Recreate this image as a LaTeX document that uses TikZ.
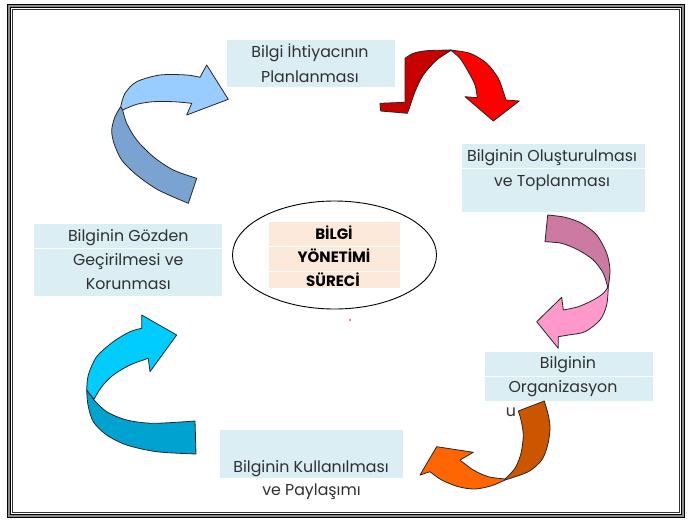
\documentclass[tikz,border=0pt]{standalone}
\usepackage{fontspec}
\setmainfont{Poppins}
\usetikzlibrary{shapes.geometric}
\definecolor{boxblue}{HTML}{DAEEF3}
\definecolor{boxpeach}{HTML}{FDE9D9}
\definecolor{txt}{HTML}{303030}
\definecolor{blueL}{HTML}{99CCFF}
\definecolor{blueD}{HTML}{7BA3D2}
\definecolor{redD}{HTML}{C80000}
\definecolor{redL}{HTML}{FF0000}
\definecolor{pinkD}{HTML}{CC7AA2}
\definecolor{pinkL}{HTML}{FF99CC}
\definecolor{orD}{HTML}{CC5500}
\definecolor{orL}{HTML}{FF6600}
\definecolor{cyL}{HTML}{00CCFF}
\definecolor{cyD}{HTML}{00A3CF}
\tikzset{
  bluebox/.style={draw=none, fill=boxblue, inner sep=0pt},
  peachbox/.style={draw=none, fill=boxpeach, inner sep=0pt},
  lbl/.style={anchor=base, inner sep=0pt, text=txt, font=\fontsize{15.8}{18}\selectfont},
  blbl/.style={anchor=base, inner sep=0pt, text=black, font=\fontsize{15}{18}\selectfont\bfseries},
  arrowline/.style={draw=black!85, line width=0.8pt, line join=round},
  sep/.style={draw=white, line width=1pt}
}
\begin{document}
\begin{tikzpicture}[x=1pt,y=-1pt]
\useasboundingbox (0,0) rectangle (691,520);
\fill[white] (0,0) rectangle (691,520);
% frame
\draw[line width=3.2pt, black!45] (8.7,6) rectangle (682.6,515.8);
\draw[line width=1pt, black] (7.3,4.7) rectangle (684,517.2);
\draw[line width=1.2pt, black] (10.1,7.4) rectangle (681.2,514.4);
\draw[line width=0.7pt, black!80] (12.4,9.6) rectangle (678.9,512.1);

% boxes
\node[bluebox, minimum width=168, minimum height=47] (b1) at (311,63.5) {};
\node[bluebox, minimum width=183, minimum height=68] (b2) at (553.5,178) {};
\node[bluebox, minimum width=168, minimum height=49] (b3) at (569,376.5) {};
\node[bluebox, minimum width=183, minimum height=48] (b4) at (311.5,454) {};
\node[bluebox, minimum width=188, minimum height=72] (b5) at (128,260) {};
\draw[sep] (b2.west |- 0,168) -- (b2.east |- 0,168);
\draw[sep] (b3.west |- 0,376) -- (b3.east |- 0,376);
\draw[sep] (b5.west |- 0,248) -- (b5.east |- 0,248);

% centre
\node[draw=black, line width=0.9pt, ellipse, minimum width=204, minimum height=108, inner sep=0pt] (ell) at (334.5,255) {};
\node[peachbox, minimum width=131, minimum height=66] (cb) at (334.5,255) {};
\draw[sep] (cb.west |- 0,246.5) -- (cb.east |- 0,246.5);
\draw[sep] (cb.west |- 0,271) -- (cb.east |- 0,271);
\node[blbl] (c1) at (334,239) {BİLGİ};
\node[blbl] (c2) at (334,262.3) {YÖNETİMİ};
\node[blbl] (c3) at (333,286.7) {SÜRECİ};

% texts
\node[lbl] (t1a) at (310,57) {Bilgi İhtiyacının};
\node[lbl] (t1b) at (310,82) {Planlanması};
\node[lbl] (t2a) at (552,161) {Bilginin Oluşturulması};
\node[lbl] (t2b) at (552,186) {ve Toplanması};
\node[lbl] (t3a) at (568,368) {Bilginin};
\node[lbl] (t3b) at (563,392.7) {Organizasyon};
\node[lbl] (t3c) at (511,416) {u};
\node[lbl] (t4a) at (311,472.7) {Bilginin Kullanılması};
\node[lbl] (t4b) at (311.5,495) {ve Paylaşımı};
\node[lbl] (t5a) at (128.3,241) {Bilginin Gözden};
\node[lbl] (t5b) at (128.3,265.3) {Geçirilmesi ve};
\node[lbl] (t5c) at (128.3,289.3) {Korunması};

% red dot
\fill[red] (350,320) circle (0.8);

% arrow 1 (blue, top left)
\filldraw[arrowline, fill=blueD] (120.7,106.7) -- plot[smooth] coordinates {(120.7,106.7) (115,116.7) (111.7,130) (114,143.3) (121.7,160) (136.7,175) (158.3,190) (188.3,203.3)} -- (196.7,178.3) -- plot[smooth] coordinates {(196.7,178.3) (173.3,170) (153.3,156.7) (136.7,140) (126.7,123.3) (122.7,110)} -- cycle;
\filldraw[arrowline, fill=blueL] (120.7,106.7) -- plot[smooth] coordinates {(120.7,106.7) (125,93.3) (136.7,81.7) (160,75) (186.7,75) (200,77.3)} -- (206.7,65) -- (228.3,99.3) -- (186.7,115) -- (191.7,103.3) -- plot[smooth] coordinates {(191.7,103.3) (173.3,101.7) (153.3,101.7) (136.7,104.3) (122.7,110)} -- cycle;

% arrow 2 (red)
\filldraw[arrowline, fill=redD] (405,58.3) -- plot[smooth] coordinates {(405,58.3) (413.3,53.3) (426.7,50.7) (451.7,50)} -- plot[smooth] coordinates {(451.7,50) (436.7,60) (423.3,75) (415,91.7) (409.3,108.3) (407.3,113.3)} -- (380.7,111) -- (380,103.3) -- (405,102.3) -- cycle;
\filldraw[arrowline, fill=redL] (450,50) -- plot[smooth] coordinates {(450,50) (470,53.3) (486.7,63.3) (498.3,78.3) (503.3,91.7) (506,100)} -- (519.3,101) -- (493.3,121) -- (465,96.7) -- (477.3,97.7) -- plot[smooth] coordinates {(477.3,97.7) (475,85) (468.3,71.7) (460,58.3) (451.7,51)} -- cycle;

% arrow 3 (pink)
\filldraw[arrowline, fill=pinkD] (547.7,215) -- plot[smooth] coordinates {(547.7,215) (565,217.3) (581.7,223.3) (596.7,235) (606.7,253.3) (610,270) (608.3,286.7)} -- plot[smooth] coordinates {(607.7,287.3) (603.3,273.3) (593.3,260) (578.3,250) (561.7,243.3) (545,241.7)} -- cycle;
\filldraw[arrowline, fill=pinkL] (608.3,286.7) -- plot[smooth] coordinates {(608.3,286.7) (606.7,305) (600,320) (585,331.7) (568.3,335) (558.3,336.7)} -- (558.3,348.3) -- (536.7,321.7) -- (561.7,297.3) -- (563.3,310) -- plot[smooth] coordinates {(563.3,310) (578.3,306.7) (593.3,300) (603.3,293.3) (607.7,287.3)} -- cycle;

% arrow 4 (orange)
\filldraw[arrowline, fill=orD] (518.3,411) -- (544.3,401) -- plot[smooth] coordinates {(544.3,401) (548.3,415) (550,428.3) (547.7,445) (541.7,460) (528.3,471.7) (505,480)} -- plot[smooth] coordinates {(505,479) (515,468.3) (521,453.3) (523.3,435) (521,420) (518.3,411)} -- cycle;
\filldraw[arrowline, fill=orL] (505,480) -- plot[smooth] coordinates {(505,480) (491.7,485.7) (475,489) (458.3,486.7) (441.7,480) (430,471.7)} -- (420,475) -- (436.7,446.7) -- (473.3,452.3) -- (460,460) -- plot[smooth] coordinates {(460,460) (473.3,470) (488.3,476.7) (505,479)} -- cycle;

% arrow 5 (cyan)
\filldraw[arrowline, fill=cyD] (86.7,390) -- plot[smooth] coordinates {(86.7,390) (88,405) (93.3,421.7) (106.7,435) (126.7,445) (156.7,451.7) (196,454)} -- (195,421) -- plot[smooth] coordinates {(195,421) (153.3,423.3) (126.7,420) (106.7,411.7) (94,400)} -- cycle;
\filldraw[arrowline, fill=cyL] (86.7,390) -- plot[smooth] coordinates {(86.7,390) (88.3,375) (96.7,356.7) (113.3,341.7) (130,331.7) (141.7,328.3)} -- (141.7,315) -- (176.7,335) -- (150,371.7) -- (148.3,358.3) -- plot[smooth] coordinates {(148.3,358.3) (130,365) (113.3,375) (101.7,386.7) (94,399.3)} -- cycle;
\end{tikzpicture}
\end{document}
